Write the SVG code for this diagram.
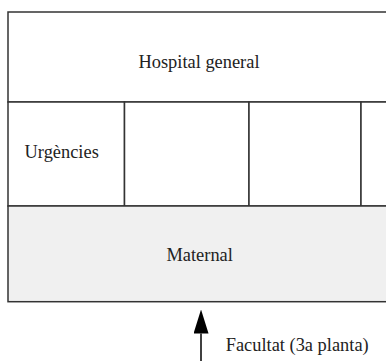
<svg xmlns="http://www.w3.org/2000/svg" width="386" height="361" viewBox="0 0 386 361">
<style>
.box{fill:#ffffff;stroke:#333333;stroke-width:1.5}
.grey{fill:#f0f0f0;stroke:#333333;stroke-width:1.5}
.lbl{font-family:"Liberation Serif","Times New Roman",serif;font-size:18.4px;fill:#222222}
.conn{stroke:#000000;stroke-width:1.5;fill:none}
</style>
<defs>
<marker id="ah" markerWidth="24" markerHeight="15" refX="0" refY="7.5" orient="auto" markerUnits="userSpaceOnUse" viewBox="0 0 24 15">
<path d="M24,7.5 L0,0 L0,15 Z" fill="#000000"/>
</marker>
</defs>
<g id="hospital-general">
<rect class="box" x="8" y="12" width="382" height="90"/>
<text class="lbl" x="199" y="68.3" text-anchor="middle">Hospital general</text>
</g>
<g id="urgencies">
<rect class="box" x="8" y="102" width="116.5" height="104"/>
<text class="lbl" x="61.7" y="158.3" text-anchor="middle">Urgències</text>
</g>
<g id="cell-2">
<rect class="box" x="124.5" y="102" width="124.5" height="104"/>
</g>
<g id="cell-3">
<rect class="box" x="249" y="102" width="112" height="104"/>
</g>
<g id="cell-4">
<rect class="box" x="361" y="102" width="29" height="104"/>
</g>
<g id="maternal">
<rect class="grey" x="8" y="206" width="382" height="95.7"/>
<text class="lbl" x="199.7" y="260.7" text-anchor="middle">Maternal</text>
</g>
<g id="connectors">
<line class="conn" x1="201" y1="361" x2="201" y2="333.5" marker-end="url(#ah)"/>
</g>
<g id="facultat">
<text class="lbl" x="225.7" y="350.5">Facultat (3a planta)</text>
</g>
</svg>
